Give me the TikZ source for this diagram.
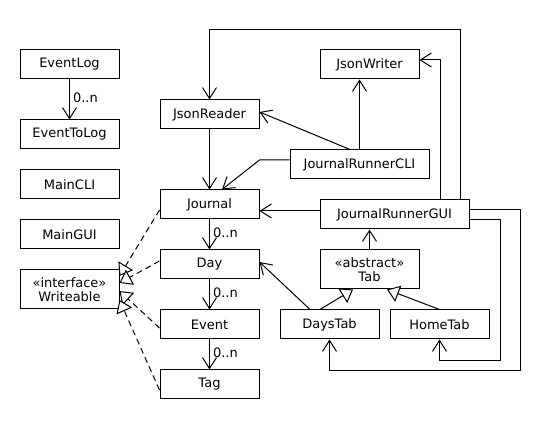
\documentclass[tikz,border=0pt]{standalone}
\usepackage{fontspec}
\setmainfont{DejaVu Sans}
\usetikzlibrary{arrows.meta}

\begin{document}
\begin{tikzpicture}[x=1pt, y=-1pt, line width=1pt,
  every node/.style={font=\fontsize{13}{14}\selectfont},
  cls/.style={draw, minimum width=99pt, minimum height=29pt, inner sep=0pt,
  align=center},
  tall/.style={cls, minimum height=39pt},
  mult/.style={anchor=west, inner sep=3pt, pos=0.45},
  >={Straight Barb[length=11pt, width=14pt]},
  gen/.style={-{Triangle[fill=white, length=12pt, width=17pt]}},
  real/.style={gen, dash pattern=on 6pt off 4pt}]
  \useasboundingbox (0,0) rectangle (560,430);
  \node[cls] (elog) at (69.5, 64.5) {EventLog};
  \node[cls] (etl) at (69.5, 134.5) {EventToLog};
  \node[cls] (mcli) at (69.5, 184.5) {MainCLI};
  \node[cls] (mgui) at (69.5, 234.5) {MainGUI};
  \node[tall] (wrt) at (69.5, 289.5) {«interface»\\Writeable};
  \node[cls] (jrd) at (209.5, 114.5) {JsonReader};
  \foreach \n/\t [count=\i] in {jnl/Journal, day/Day, evt/Event, tag/Tag}
    \node[cls] (\n) at (209.5, 144.5+60*\i) {\t};
  \node[cls] (jwr) at (369.5, 64.5) {JsonWriter};
  \node[cls, minimum width=139pt] (cli) at (359.5, 164.5) {JournalRunnerCLI};
  \node[cls, minimum width=149pt] (gui) at (394.5, 214.5) {JournalRunnerGUI};
  \node[tall] (tab) at (369.5, 269.5) {«abstract»\\Tab};
  \node[cls] (dtab) at (329.5, 324.5) {DaysTab};
  \node[cls] (htab) at (439.5, 324.5) {HomeTab};

  \draw[->] (elog) -- node[mult] {0..n} (etl);
  \foreach \a/\b in {jnl/day, day/evt, evt/tag}
    \draw[->] (\a) -- node[mult] {0..n} (\b);
  \foreach \n/\s/\e in {jnl/-5.5/13.5, day/3.5/6.5, evt/-3.5/-1.5, tag/-5.5/-10.5}
    \draw[real] ([yshift=\s pt]\n.west) -- ([yshift=\e pt]wrt.east);

  \draw[->] (jrd) -- (jnl);
  \draw[->] (cli.north) -- (cli.north |- jwr.south);
  \draw[->] ([xshift=-9.5pt]cli.north) -- ([yshift=2.5pt]jrd.east);
  \draw[->] ([yshift=4.5pt]cli.west) -- ++(-30,0) -- ([xshift=12.5pt]jnl.north);
  \draw[->] ([xshift=65.5pt]gui.north) |- ([yshift=70pt]jrd.north) -- (jrd.north);
  \draw[->] ([xshift=45.5pt]gui.north) |- ([yshift=4.5pt]jwr.east);
  \draw[->] ([yshift=3.5pt]gui.west) -- ([yshift=-6.5pt]jnl.east);
  \draw[->] (tab.north) -- (tab.north |- gui.south);
  \draw[gen] ([xshift=-9.5pt]dtab.north) -- ([xshift=-16.5pt]tab.south);
  \draw[gen] (htab.north) -- ([xshift=17.5pt]tab.south);
  \draw[->] ([xshift=-19.5pt]dtab.north) -- ([yshift=2.5pt]day.east);
  \draw[->] ([yshift=-5.5pt]gui.east) -- ++(31,0) |- ([yshift=-21pt]htab.south)
    -- (htab.south);
  \draw[->] ([yshift=4.5pt]gui.east) -- ++(51,0) |- ([yshift=-31pt]dtab.south)
    -- (dtab.south);
\end{tikzpicture}
\end{document}
